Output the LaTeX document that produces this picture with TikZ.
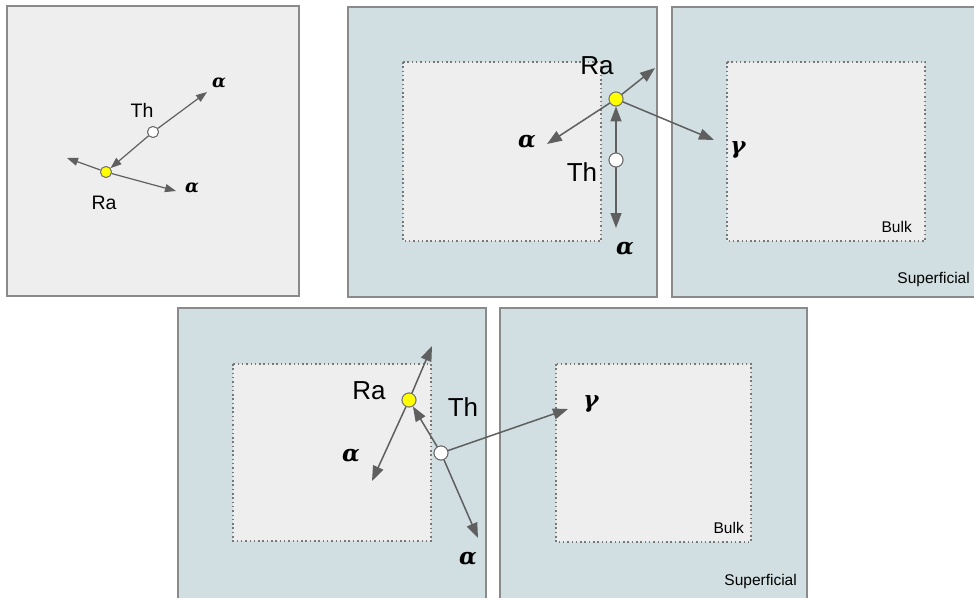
\documentclass[tikz,border=0pt]{standalone}
\usepackage{fontspec}
\setmainfont{Liberation Sans}
\newfontfamily\grkfont{DejaVu Serif}
\usetikzlibrary{arrows.meta}
\definecolor{panelblue}{HTML}{D1DFE3}
\definecolor{panelgray}{HTML}{EEEEEE}
\definecolor{edgegray}{HTML}{8A8A8A}
\definecolor{arrowgray}{HTML}{5F5F5F}
\definecolor{dotgray}{HTML}{777777}
\definecolor{rayellow}{HTML}{FFFF00}
\begin{document}
\begin{tikzpicture}[x=1pt,y=-1pt,
  outerbox/.style={draw=edgegray, line width=1.3pt},
  innerbox/.style={draw=dotgray, fill=panelgray, line width=1.5pt, dash pattern=on 1.5pt off 2.8pt},
  ray/.style={draw=arrowgray, line width=1.5pt, -{Triangle[length=15pt,width=11pt]}},
  smallray/.style={draw=arrowgray, line width=1.2pt, -{Triangle[length=11pt,width=8pt]}},
  thnuc/.style={circle, fill=white, draw=black!60, line width=0.9pt, inner sep=0pt, minimum size=#1},
  ranuc/.style={circle, fill=rayellow, draw=black!55, line width=0.9pt, inner sep=0pt, minimum size=#1},
  lbl/.style={font=\fontsize{26}{26}\selectfont, inner sep=0pt},
  smalllbl/.style={font=\fontsize{19.5}{19.5}\selectfont, inner sep=0pt},
  greek/.style={font=\grkfont\bfseries\itshape\fontsize{23}{23}\selectfont, inner sep=0pt},
  smallgreek/.style={font=\grkfont\bfseries\itshape\fontsize{18}{18}\selectfont, inner sep=0pt},
  zonelbl/.style={font=\fontsize{15.5}{15.5}\selectfont, inner sep=0pt, anchor=east}]
\useasboundingbox (0,0) rectangle (974,597);

% panels
\draw[outerbox, fill=panelgray] (7,6) rectangle (299,296);
\draw[outerbox, fill=panelblue] (348,7) rectangle (657,297);
\draw[innerbox] (403,62) rectangle (601,241);
\draw[outerbox, fill=panelblue] (672,7) rectangle (990,297);
\draw[innerbox] (727,62) rectangle (925,241);
\draw[outerbox, fill=panelblue] (178,308) rectangle (486,612);
\draw[innerbox] (233,364) rectangle (431,541);
\draw[outerbox, fill=panelblue] (500,308) rectangle (807,612);
\draw[innerbox] (556,364) rectangle (751,542);

% panel 1
\node[thnuc=11pt] (th1) at (153,132) {};
\node[ranuc=11pt] (ra1) at (106,172) {};
\coordinate (t1a) at (207,92);
\coordinate (t1b) at (67,158);
\coordinate (t1c) at (176,191);
\draw[smallray] (th1) -- (t1a);
\draw[smallray] (th1) -- (ra1);
\draw[smallray] (ra1) -- (t1b);
\draw[smallray] (ra1) -- (t1c);
\node[thnuc=11pt] at (th1) {};
\node[ranuc=11pt] at (ra1) {};
\node[smalllbl] (lth1) at (142,110) {Th};
\node[smalllbl] (lra1) at (104,203) {Ra};
\node[smallgreek] (al1a) at (219,83) {α};
\node[smallgreek] (al1b) at (192,188) {α};

% panel 2
\node[ranuc=14pt] (ra2) at (616,99) {};
\node[thnuc=14pt] (th2) at (616,160) {};
\coordinate (t2a) at (655,68);
\coordinate (t2b) at (547,144);
\coordinate (t2c) at (714,140);
\coordinate (t2d) at (616,228);
\draw[ray] (th2) -- (ra2);
\draw[ray] (th2) -- (t2d);
\draw[ray] (ra2) -- (t2a);
\draw[ray] (ra2) -- (t2b);
\draw[ray] (ra2) -- (t2c);
\node[ranuc=14pt] at (ra2) {};
\node[thnuc=14pt] at (th2) {};
\node[lbl] (lra2) at (597,66) {Ra};
\node[lbl] (lth2) at (582,172) {Th};
\node[greek] (al2a) at (527,142) {α};
\node[greek] (al2b) at (625,249) {α};
\node[greek] (ga2) at (738,150) {γ};
\node[zonelbl] (bulk3) at (912,227) {Bulk};
\node[zonelbl] (sup3) at (970,279) {Superficial};

% panel 4
\node[ranuc=14pt] (ra4) at (409,400) {};
\node[thnuc=14pt] (th4) at (441,453) {};
\coordinate (t4a) at (432,346);
\coordinate (t4b) at (372,481);
\coordinate (t4c) at (478,538);
\coordinate (t4d) at (568,409);
\draw[ray] (ra4) -- (t4a);
\draw[ray] (ra4) -- (t4b);
\draw[ray] (th4) -- (ra4);
\draw[ray] (th4) -- (t4c);
\draw[ray] (th4) -- (t4d);
\node[ranuc=14pt] at (ra4) {};
\node[thnuc=14pt] at (th4) {};
\node[lbl] (lra4) at (369,391) {Ra};
\node[lbl] (lth4) at (463,407) {Th};
\node[greek] (al4a) at (351,456) {α};
\node[greek] (al4b) at (468,559) {α};
\node[greek] (ga4) at (591,404) {γ};
\node[zonelbl] (bulk5) at (744,528) {Bulk};
\node[zonelbl] (sup5) at (797,581) {Superficial};
\end{tikzpicture}
\end{document}
